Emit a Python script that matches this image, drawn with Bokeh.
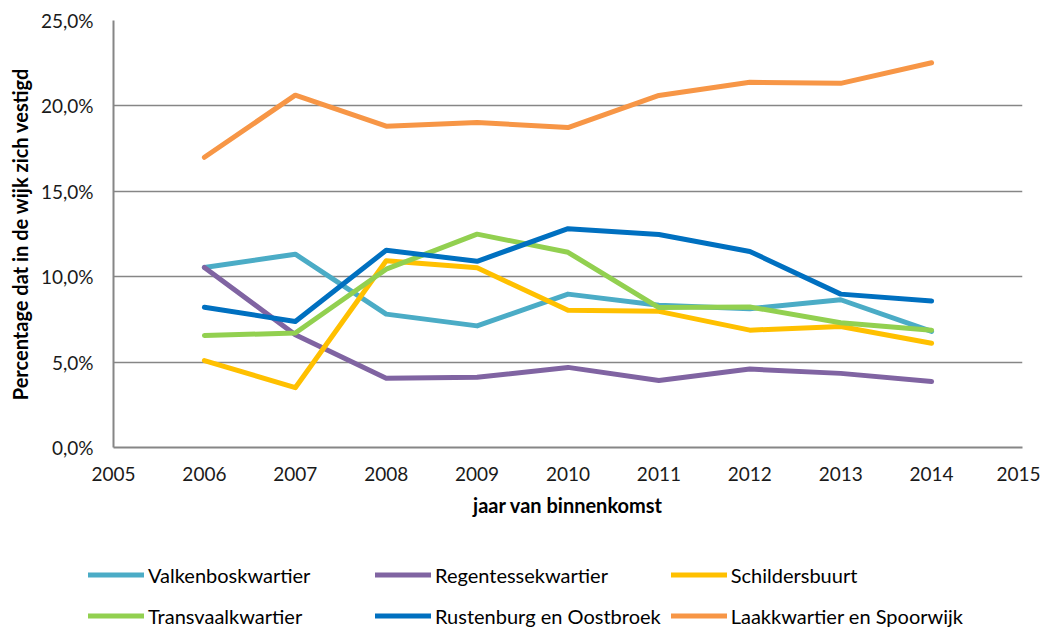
from bokeh.plotting import figure
from bokeh.layouts import column
from bokeh.models import Legend, LegendItem, FixedTicker, Range1d
from bokeh.embed import file_html
from bokeh.resources import INLINE

years = [2006, 2007, 2008, 2009, 2010, 2011, 2012, 2013, 2014]
valkenbosk = [10.54, 11.32, 7.81, 7.12, 8.98, 8.33, 8.13, 8.65, 6.80]
regentesse = [10.54, 6.60, 4.06, 4.11, 4.69, 3.92, 4.59, 4.34, 3.86]
schilders = [5.09, 3.50, 10.93, 10.52, 8.04, 7.97, 6.87, 7.08, 6.10]
transvaal = [6.56, 6.70, 10.44, 12.49, 11.43, 8.19, 8.23, 7.30, 6.87]
rustenburg = [8.21, 7.38, 11.55, 10.90, 12.81, 12.47, 11.48, 8.98, 8.58]
laak = [16.99, 20.63, 18.81, 19.03, 18.73, 20.61, 21.38, 21.32, 22.53]

names = ["Valkenboskwartier", "Regentessekwartier", "Schildersbuurt",
         "Transvaalkwartier", "Rustenburg en Oostbroek", "Laakkwartier en Spoorwijk"]
series = [valkenbosk, regentesse, schilders, transvaal, rustenburg, laak]
colors = ["#4BACC6", "#8064A2", "#FFC000", "#92D050", "#0070C0", "#F79646"]

y_ticks = [0, 5, 10, 15, 20, 25]
x_ticks = list(range(2005, 2016))

FONT = "Lato"
GRID = "#868686"

p = figure(width=1040, height=543, output_backend="svg", toolbar_location=None,
           x_range=Range1d(2005, 2015), y_range=Range1d(0, 25),
           min_border_left=113, min_border_right=18, min_border_top=20,
           min_border_bottom=96)
p.frame_align = False
p.outline_line_color = None
p.background_fill_color = "white"

p.xgrid.grid_line_color = None
p.ygrid.grid_line_color = GRID
p.ygrid.grid_line_width = 1.5
p.ygrid.ticker = FixedTicker(ticks=y_ticks)

p.yaxis.ticker = FixedTicker(ticks=y_ticks)
p.yaxis.major_label_overrides = {v: f"{v:.1f}".replace(".", ",") + "%" for v in y_ticks}
p.xaxis.ticker = FixedTicker(ticks=x_ticks)

for ax in (p.xaxis, p.yaxis):
    ax.axis_line_color = GRID
    ax.axis_line_width = 2
    ax.major_tick_line_color = None
    ax.minor_tick_line_color = None
    ax.major_tick_out = 0
    ax.major_tick_in = 0
    ax.major_label_text_font = FONT
    ax.major_label_text_font_size = "19px"
    ax.major_label_text_color = "#1a1a1a"
    ax.axis_label_text_font = FONT
    ax.axis_label_text_font_style = "bold"
    ax.axis_label_text_font_size = "20px"
    ax.axis_label_text_color = "black"

p.yaxis.axis_label = "Percentage dat in de wijk zich vestigd"
p.yaxis.major_label_standoff = 20
p.yaxis.axis_label_standoff = 6
p.xaxis.axis_label = "jaar van binnenkomst"
p.xaxis.major_label_standoff = 19
p.xaxis.axis_label_standoff = 9

for name, vals, col in zip(names, series, colors):
    p.line(years, vals, line_color=col, line_width=5,
           line_cap="round", line_join="round")

# legend strip below the chart (its own frame spans the full width)
lg = figure(width=1040, height=85, output_backend="svg", toolbar_location=None,
            x_range=Range1d(0, 1), y_range=Range1d(0, 1),
            x_axis_location=None, y_axis_location=None,
            min_border_left=0, min_border_right=0, min_border_top=0, min_border_bottom=0)
lg.frame_align = False
lg.outline_line_color = None
lg.grid.grid_line_color = None

proxies = []
for name, vals, col in zip(names, series, colors):
    r = lg.line(years, vals, line_color=col, line_width=5, line_cap="round")
    r.visible = False
    proxies.append(LegendItem(label=name, renderers=[r]))

# column-major filling: reorder so rows read like the reference
order = [0, 3, 1, 4, 2, 5]
items = [proxies[i] for i in order]

legend = Legend(items=items, ncols=3, location=(88, -3),
                glyph_width=56, glyph_height=31, label_height=31, label_width=217,
                label_standoff=4, spacing=10, padding=0, margin=0,
                border_line_color=None, background_fill_alpha=0,
                label_text_font=FONT, label_text_font_size="20px",
                label_text_color="black")
lg.add_layout(legend, "center")

layout = column(p, lg, spacing=0)
open("out.html", "w").write(file_html(layout, INLINE))
